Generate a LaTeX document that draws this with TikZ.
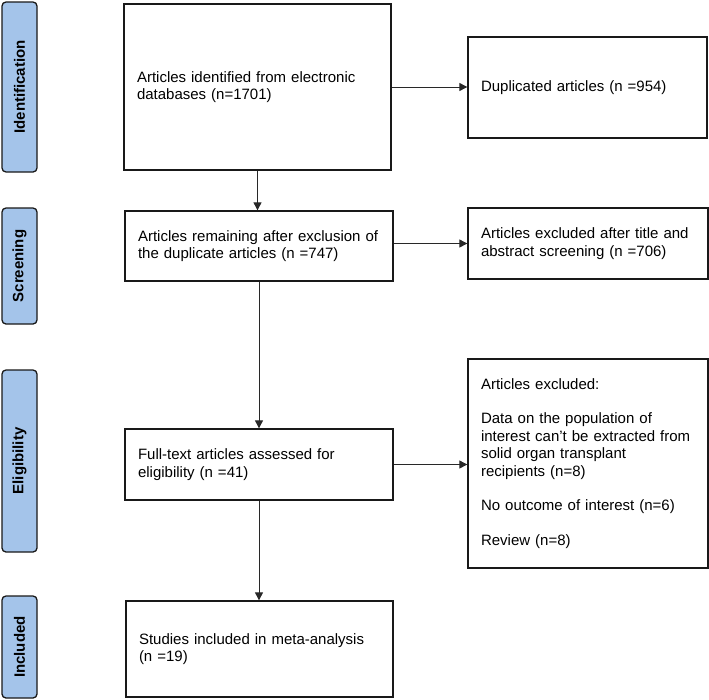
\documentclass[tikz,border=0pt]{standalone}
\usepackage{fontspec}
\setmainfont{Liberation Sans}
\usetikzlibrary{arrows.meta}
\definecolor{sideblue}{RGB}{164,196,234}
\definecolor{edgegray}{RGB}{40,40,40}
\begin{document}
\begin{tikzpicture}[x=1pt,y=-1pt,
  flowbox/.style={draw=black!90, line width=1.3pt, rectangle, align=left,
    inner xsep=13pt, inner ysep=0pt,
    font=\fontsize{15pt}{17.4pt}\selectfont},
  sidebox/.style={draw=black!90, line width=1.3pt, fill=sideblue, rounded corners=4pt,
    rotate=90, minimum height=35pt, inner sep=0pt,
    font=\fontsize{15pt}{17pt}\selectfont\bfseries},
  flowarrow/.style={draw=edgegray, line width=0.9pt, -{Triangle[length=8pt,width=8pt]}}
]
\useasboundingbox (0,0) rectangle (709,699);

% side labels
\node[sidebox, minimum width=170pt] (sid) at (19.5,87) {Identification};
\node[sidebox, minimum width=116pt] (ssc) at (19.5,266) {Screening};
\node[sidebox, minimum width=182pt] (sel) at (19.5,461) {Eligibility};
\node[sidebox, minimum width=102pt] (sin) at (19.5,647) {Included};

% main column
\node[flowbox, minimum width=267pt, minimum height=166pt, text width=241pt] (b1) at (257.5,87)
  {Articles identified from electronic\\databases (n=1701)};
\node[flowbox, minimum width=268pt, minimum height=70pt, text width=242pt] (b2) at (259,246)
  {Articles remaining after exclusion of\\the duplicate articles (n =747)};
\node[flowbox, minimum width=268pt, minimum height=71pt, text width=242pt] (b3) at (259,464.5)
  {Full-text articles assessed for\\eligibility (n =41)};
\node[flowbox, minimum width=267pt, minimum height=96pt, text width=241pt] (b4) at (259.5,649)
  {Studies included in meta-analysis\\(n =19)};

% right column
\node[flowbox, minimum width=239pt, minimum height=101pt, text width=213pt, inner xsep=13pt] (dup) at (587.5,87.5)
  {Duplicated articles (n =954)};
\node[flowbox, minimum width=240pt, minimum height=71pt, text width=214pt] (e1) at (588,243.5)
  {Articles excluded after title and\\abstract screening (n =706)};
\node[flowbox, minimum width=240pt, minimum height=209pt, text width=214pt] (e2) at (588,463.5)
  {Articles excluded:\\[17.4pt]Data on the population of\\interest can't be extracted from\\solid organ transplant\\recipients (n=8)\\[17.4pt]No outcome of interest (n=6)\\[17.4pt]Review (n=8)};

% connectors
\draw[flowarrow] (b1.east) -- (b1.east -| dup.west);
\draw[flowarrow] (b1.south) -- (b1.south |- b2.north);
\draw[flowarrow] (e1.west -| b2.east) -- (e1.west);
\draw[flowarrow] (b2.south) -- (b2.south |- b3.north);
\draw[flowarrow] (b3.east) -- (b3.east -| e2.west);
\draw[flowarrow] (b3.south) -- (b3.south |- b4.north);
\end{tikzpicture}
\end{document}
